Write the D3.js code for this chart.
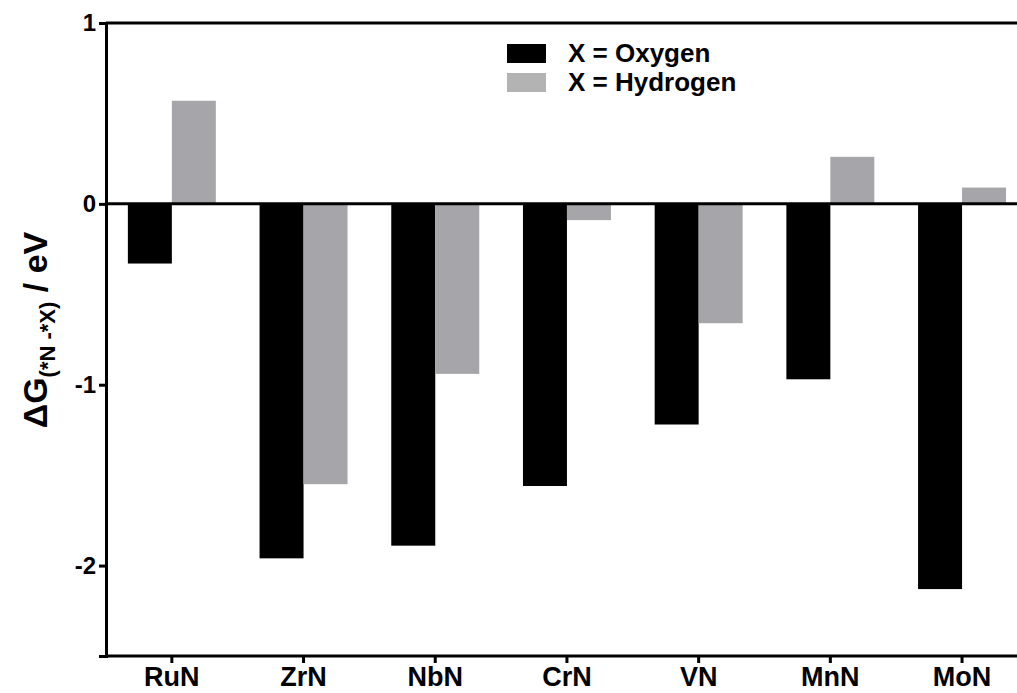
<!DOCTYPE html>
<html>
<head>
<meta charset="utf-8">
<script src="https://cdn.jsdelivr.net/npm/d3@7"></script>
<style>
  body { margin: 0; background: #fff; }
  svg { display: block; font-family: "Liberation Sans", Arial, sans-serif; font-weight: bold; }
</style>
</head>
<body>
<div id="chart"></div>
<script>
const categories = ["RuN", "ZrN", "NbN", "CrN", "VN", "MnN", "MoN"];
const oxygen = [-0.33, -1.96, -1.89, -1.56, -1.22, -0.97, -2.13];
const hydrogen = [0.57, -1.55, -0.94, -0.09, -0.66, 0.26, 0.09];
const seriesNames = ["X = Oxygen", "X = Hydrogen"];
const yTicks = [-2, -1, 0, 1];

const width = 1017, height = 693;
const plotLeft = 106, plotTop = 23, plotBottom = 656;
// the plot runs a bit past the right edge of the picture
const plotRight = plotLeft + 7 * 131.7;

const svg = d3.select("#chart")
    .append("svg")
    .attr("width", width)
    .attr("height", height);

let xScale = d3.scaleBand()
    .domain(categories)
    .range([plotLeft, plotRight])
    .paddingInner(0.332)
    .paddingOuter(0.166);

let xSub = d3.scaleBand()
    .domain([0, 1])
    .range([0, xScale.bandwidth()]);

let yScale = d3.scaleLinear()
    .domain([-2.5, 1])
    .range([plotBottom, plotTop]);

const colors = ["#000000", "#a6a5a9"];
const data = categories.map((c, i) => ({cat: c, vals: [oxygen[i], hydrogen[i]]}));

// bars
svg.append("g")
    .selectAll("g")
    .data(data)
    .join("g")
    .attr("transform", d => `translate(${xScale(d.cat)},0)`)
    .selectAll("rect")
    .data(d => d.vals.map((v, k) => ({k: k, v: v})))
    .join("rect")
    .attr("x", d => xSub(d.k))
    .attr("width", xSub.bandwidth())
    .attr("y", d => yScale(Math.max(0, d.v)))
    .attr("height", d => Math.abs(yScale(d.v) - yScale(0)))
    .attr("fill", d => colors[d.k]);

// top line and zero line
svg.append("line")
    .attr("x1", plotLeft).attr("x2", width)
    .attr("y1", yScale(1)).attr("y2", yScale(1))
    .attr("stroke", "#000").attr("stroke-width", 3);
svg.append("line")
    .attr("x1", plotLeft).attr("x2", width)
    .attr("y1", yScale(0)).attr("y2", yScale(0))
    .attr("stroke", "#000").attr("stroke-width", 3);

// y axis
let yAxis = svg.append("g")
    .attr("transform", `translate(${plotLeft},0)`)
    .call(d3.axisLeft(yScale).tickValues(yTicks).tickFormat(d3.format("d")).tickSize(7).tickPadding(3));
yAxis.select(".domain").attr("stroke-width", 3);
yAxis.selectAll(".tick line").attr("stroke-width", 3);
yAxis.selectAll("text")
    .style("font-size", "24px")
    .style("font-family", "Liberation Sans, Arial, sans-serif")
    .style("font-weight", "bold")
    .attr("fill", "#000")
    .text(d => d < 0 ? "-" + Math.abs(d) : d);

// x axis
let xAxis = svg.append("g")
    .attr("transform", `translate(0,${plotBottom})`)
    .call(d3.axisBottom(xScale).tickSize(7).tickSizeOuter(0).tickPadding(4));
xAxis.select(".domain").attr("stroke-width", 3).attr("d", `M${plotLeft},0H${width}`);
xAxis.selectAll(".tick line").attr("stroke-width", 3);
xAxis.selectAll("text")
    .style("font-size", "27px")
    .style("font-family", "Liberation Sans, Arial, sans-serif")
    .style("font-weight", "bold")
    .attr("fill", "#000");

// y title
let yTitle = svg.append("text")
    .attr("transform", "translate(47,330) rotate(-90)")
    .attr("text-anchor", "middle")
    .style("font-size", "34px");
yTitle.append("tspan").text("\u0394G");
yTitle.append("tspan").attr("dy", 8).style("font-size", "22px").text("(*N -*X)");
yTitle.append("tspan").attr("dy", -8).text(" / eV");

// legend
const legend = svg.append("g");
seriesNames.forEach((name, i) => {
    legend.append("rect")
        .attr("x", 507).attr("y", 44 + i * 29)
        .attr("width", 39).attr("height", 19)
        .attr("fill", i === 0 ? "#000" : "#b3b3b3");
    legend.append("text")
        .attr("x", 568).attr("y", 62 + i * 29)
        .style("font-size", "26px")
        .text(name);
});
</script>
</body>
</html>
